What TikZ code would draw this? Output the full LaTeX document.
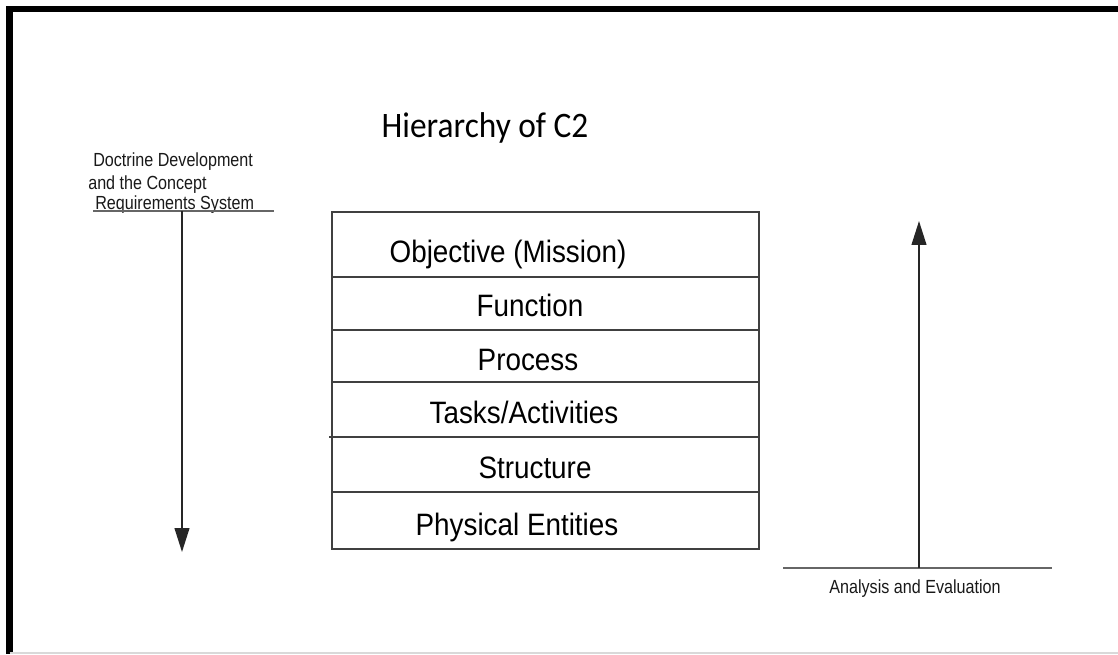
\documentclass[tikz,border=0pt]{standalone}
\usepackage{fontspec}
\newfontfamily\rowfont[FakeStretch=0.9]{Liberation Sans}
\newfontfamily\notefont[FakeStretch=0.85]{Liberation Sans}
\newfontfamily\headfont[FakeStretch=0.93]{Carlito}
\usetikzlibrary{arrows.meta}

\begin{document}
\begin{tikzpicture}[x=0.025cm,y=-0.025cm,
  row/.style={inner sep=0pt,anchor=base,text=black,font=\rowfont\fontsize{22}{26}\selectfont},
  note/.style={inner sep=0pt,anchor=base west,text=black!90,font=\notefont\fontsize{13.5}{16}\selectfont},
  cell/.style={draw=black!75,line width=1.3pt},
  rule/.style={draw=black!60,line width=1.8pt},
  flow/.style={draw=black!85,line width=1.2pt,-{Triangle[length=17pt,width=10.5pt]}}]
 \useasboundingbox (0,0) rectangle (1118,654);
 % frame
 \draw[line width=4.5pt](1118,9)--(9.5,9)--(9.5,654);
 \draw[black!15,line width=1pt](9.5,653)--(1118,653);

 \node[inner sep=0pt,anchor=base,font=\headfont\fontsize{25.5}{30}\selectfont] (title) at (485,137) {Hierarchy of C2};

 % the stack
 \draw[cell](332,212) rectangle (759,549);
 \draw[cell](332,277)--(759,277);
 \draw[cell](332,330)--(759,330);
 \draw[cell](332,382)--(759,382);
 \draw[cell](329,437)--(759,437);
 \draw[cell](332,492)--(759,492);

 \node[row] (objective) at (508,262) {Objective (Mission)};
 \node[row] (function) at (530,316) {Function};
 \node[row] (process) at (528,370) {Process};
 \node[row] (tasks) at (524,423) {Tasks/Activities};
 \node[row] (structure) at (535,478) {Structure};
 \node[row] (physical) at (517,535) {Physical Entities};

 % left side
 \node[note] (doc1) at (93,166) {Doctrine Development};
 \node[note] (doc2) at (88,189) {and the Concept};
 \node[note] (doc3) at (95,209) {Requirements System};
 \coordinate (dl) at (93,211);
 \coordinate (dr) at (274,211);
 \coordinate (dt) at (182,211);
 \coordinate (db) at (182,552);
 \draw[rule](dl)--(dr);
 \draw[flow](dt)--(db);

 % right side
 \node[note,anchor=base] (analysis) at (915,593) {Analysis and Evaluation};
 \coordinate (al) at (783,568);
 \coordinate (ar) at (1052,568);
 \coordinate (ab) at (919,568);
 \coordinate (at) at (919,221);
 \draw[rule](al)--(ar);
 \draw[flow](ab)--(at);
\end{tikzpicture}
\end{document}
